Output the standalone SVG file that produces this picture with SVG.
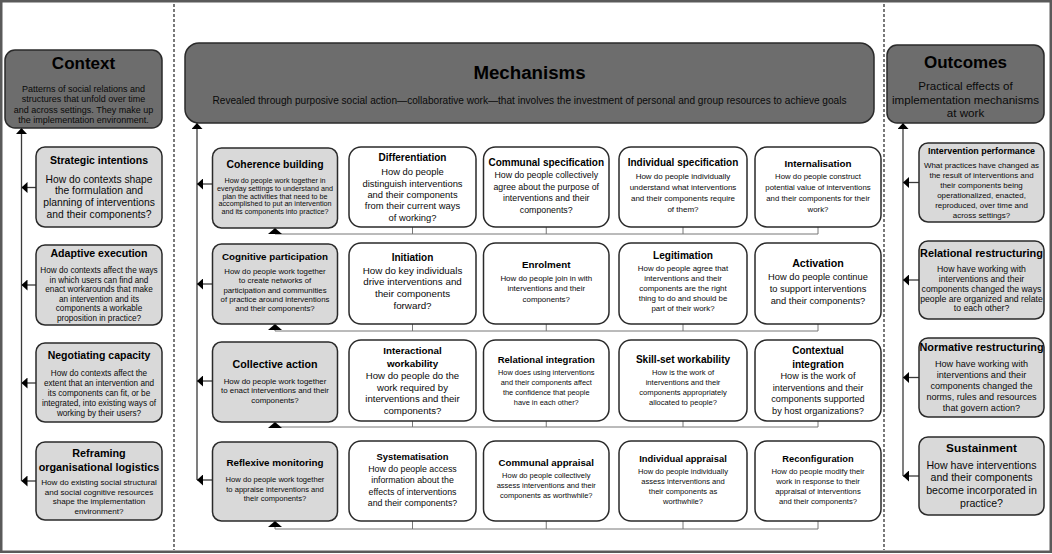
<svg xmlns="http://www.w3.org/2000/svg" width="1052" height="554" viewBox="0 0 1052 554">
<style>
text{font-family:"Liberation Sans",Arial,sans-serif;text-anchor:middle;fill:#0a0a0a}
.tb{font-weight:bold;fill:#000}
.hdr{fill:#6d6d6d;stroke:#2a2a2a;stroke-width:1.5}
.gry{fill:#d9d9d9;stroke:#2a2a2a;stroke-width:1.5}
.wht{fill:#fff;stroke:#2a2a2a;stroke-width:1.5}
.frame{fill:none;stroke:#5a5a5a;stroke-width:2.5}
.sep{stroke:#333;stroke-width:1.3;stroke-dasharray:3 2;fill:none}
.ln{fill:none;stroke:#3a3a3a;stroke-width:1.3}
.br{fill:none;stroke:#777;stroke-width:1}
</style>
<defs>
<marker id="ah" viewBox="0 0 6 11" refX="6" refY="5.5" markerWidth="6" markerHeight="11" markerUnits="userSpaceOnUse" orient="auto"><path d="M0,0L6,5.5L0,11z" fill="#000"/></marker>
<marker id="ahw" viewBox="0 0 6 14" refX="6" refY="7" markerWidth="6" markerHeight="14" markerUnits="userSpaceOnUse" orient="auto"><path d="M0,0L6,7L0,14z" fill="#000"/></marker>
</defs>
<rect x="0" y="0" width="1052" height="554" fill="#fff"/>
<rect class="frame" x="1.25" y="1.25" width="1049.5" height="550.5"/>
<line class="sep" x1="174" y1="4" x2="174" y2="550"/>
<line class="sep" x1="884" y1="4" x2="884" y2="550"/>

<g id="connectors">
<path class="ln" d="M21.5,481V128" marker-end="url(#ah)"/>
<path class="ln" d="M36,187.5H21.5" marker-end="url(#ah)"/>
<path class="ln" d="M36,285H21.5" marker-end="url(#ah)"/>
<path class="ln" d="M36,383H21.5" marker-end="url(#ah)"/>
<path class="ln" d="M36,481H21.5" marker-end="url(#ah)"/>
<path class="ln" d="M197,480V123" marker-end="url(#ah)"/>
<path class="ln" d="M212.5,184H197" marker-end="url(#ah)"/>
<path class="ln" d="M212.5,284H197" marker-end="url(#ah)"/>
<path class="ln" d="M212.5,381H197" marker-end="url(#ah)"/>
<path class="ln" d="M212.5,480H197" marker-end="url(#ah)"/>
<path class="br" d="M412.5,227V234M546.25,227V234M683,227V234"/>
<path class="br" d="M818,227V234H275V228" marker-end="url(#ahw)"/>
<path class="br" d="M412.5,324V331M546.25,324V331M683,324V331"/>
<path class="br" d="M818,324V331H275V324" marker-end="url(#ahw)"/>
<path class="br" d="M412.5,421V427M546.25,421V427M683,421V427"/>
<path class="br" d="M818,421V427H275V422" marker-end="url(#ahw)"/>
<path class="br" d="M412.5,521V529M546.25,521V529M683,521V529"/>
<path class="br" d="M818,521V529H275V521" marker-end="url(#ahw)"/>
<path class="ln" d="M903,476V123" marker-end="url(#ah)"/>
<path class="ln" d="M919,182.5H903" marker-end="url(#ah)"/>
<path class="ln" d="M919,280H903" marker-end="url(#ah)"/>
<path class="ln" d="M919,377.5H903" marker-end="url(#ah)"/>
<path class="ln" d="M919,476H903" marker-end="url(#ah)"/>
</g>

<g id="context">
<rect class="hdr" x="5" y="50" width="157" height="78" rx="10"/>
<text class="tb" x="83.5" y="69" font-size="17">Context</text>
<g font-size="9"><text x="83.5" y="91.5">Patterns of social relations and</text><text x="83.5" y="102">structures that unfold over time</text><text x="83.5" y="112.5">and across settings. They make up</text><text x="83.5" y="123">the implementation environment.</text></g>
</g>
<g id="strategic-intentions">
<rect class="gry" x="36" y="147" width="126" height="80" rx="9"/>
<text class="tb" x="99" y="163.7" font-size="10.5">Strategic intentions</text>
<g font-size="10.3"><text x="99" y="182.5">How do contexts shape</text><text x="99" y="194.2">the formulation and</text><text x="99" y="205.9">planning of interventions</text><text x="99" y="217.6">and their components?</text></g>
</g>
<g id="adaptive-execution">
<rect class="gry" x="36" y="245" width="126" height="80" rx="9"/>
<text class="tb" x="99" y="257" font-size="10.6">Adaptive execution</text>
<g font-size="8.2"><text x="99" y="273">How do contexts affect the ways</text><text x="99" y="282.6">in which users can find and</text><text x="99" y="292.2">enact workarounds that make</text><text x="99" y="301.8">an intervention and its</text><text x="99" y="311.4">components a workable</text><text x="99" y="321">proposition in practice?</text></g>
</g>
<g id="negotiating-capacity">
<rect class="gry" x="36" y="343" width="126" height="79" rx="9"/>
<text class="tb" x="99" y="358.7" font-size="10.5">Negotiating capacity</text>
<g font-size="8.2"><text x="99" y="375.9">How do contexts affect the</text><text x="99" y="385.9">extent that an intervention and</text><text x="99" y="395.9">its components can fit, or be</text><text x="99" y="405.9">integrated, into existing ways of</text><text x="99" y="415.9">working by their users?</text></g>
</g>
<g id="reframing-logistics">
<rect class="gry" x="36" y="442" width="126" height="78" rx="9"/>
<g font-size="10.8"><text class="tb" x="99" y="456.7">Reframing</text><text class="tb" x="99" y="470.7">organisational logistics</text></g>
<g font-size="8.1"><text x="99" y="484.8">How do existing social structural</text><text x="99" y="494.5">and social cognitive resources</text><text x="99" y="504.2">shape the implementation</text><text x="99" y="513.9">environment?</text></g>
</g>

<g id="mechanisms">
<rect class="hdr" x="185" y="43" width="689" height="80" rx="14"/>
<text class="tb" x="529.5" y="79" font-size="18.7">Mechanisms</text>
<text x="529.5" y="103.5" font-size="10.1">Revealed through purposive social action—collaborative work—that involves the investment of personal and group resources to achieve goals</text>
</g>

<g id="coherence-building">
<rect class="gry" x="212.5" y="148" width="125" height="80" rx="9"/>
<text class="tb" x="275" y="168" font-size="10.4">Coherence building</text>
<g font-size="7.2"><text x="275" y="183.2">How do people work together in</text><text x="275" y="190.9">everyday settings to understand and</text><text x="275" y="198.6">plan the activities that need to be</text><text x="275" y="206.4">accomplished to put an intervention</text><text x="275" y="214.1">and its components into practice?</text></g>
</g>
<g id="differentiation">
<rect class="wht" x="349" y="147" width="127" height="80" rx="12"/>
<text class="tb" x="412.5" y="160.9" font-size="10">Differentiation</text>
<g font-size="9.4"><text x="412.5" y="175.1">How do people</text><text x="412.5" y="186.6">distinguish interventions</text><text x="412.5" y="198">and their components</text><text x="412.5" y="209.4">from their current ways</text><text x="412.5" y="220.8">of working?</text></g>
</g>
<g id="communal-specification">
<rect class="wht" x="483.5" y="147" width="125.5" height="80" rx="12"/>
<text class="tb" x="546.25" y="165.6" font-size="10">Communal specification</text>
<g font-size="8.8"><text x="546.25" y="178.1">How do people collectively</text><text x="546.25" y="189.6">agree about the purpose of</text><text x="546.25" y="201.1">interventions and their</text><text x="546.25" y="212.6">components?</text></g>
</g>
<g id="individual-specification">
<rect class="wht" x="619" y="147" width="128" height="80" rx="12"/>
<text class="tb" x="683" y="166.4" font-size="10">Individual specification</text>
<g font-size="8"><text x="683" y="178.9">How do people individually</text><text x="683" y="189.9">understand what interventions</text><text x="683" y="200.9">and their components require</text><text x="683" y="211.9">of them?</text></g>
</g>
<g id="internalisation">
<rect class="wht" x="755" y="147" width="126" height="80" rx="12"/>
<text class="tb" x="818" y="166.5" font-size="9.8">Internalisation</text>
<g font-size="7.8"><text x="818" y="178.5">How do people construct</text><text x="818" y="189.5">potential value of interventions</text><text x="818" y="200.5">and their components for their</text><text x="818" y="211.5">work?</text></g>
</g>

<g id="cognitive-participation">
<rect class="gry" x="212.5" y="244" width="125" height="80" rx="9"/>
<text class="tb" x="275" y="260" font-size="9.8">Cognitive participation</text>
<g font-size="7.8"><text x="275" y="274">How do people work together</text><text x="275" y="283.3">to create networks of</text><text x="275" y="292.6">participation and communities</text><text x="275" y="301.9">of practice around interventions</text><text x="275" y="311.2">and their components?</text></g>
</g>
<g id="initiation">
<rect class="wht" x="349" y="243" width="127" height="81" rx="12"/>
<text class="tb" x="412.5" y="261" font-size="10">Initiation</text>
<g font-size="9.8"><text x="412.5" y="273.5">How do key individuals</text><text x="412.5" y="285.3">drive interventions and</text><text x="412.5" y="297.1">their components</text><text x="412.5" y="308.9">forward?</text></g>
</g>
<g id="enrolment">
<rect class="wht" x="483.5" y="243" width="125.5" height="81" rx="12"/>
<text class="tb" x="546.25" y="268.2" font-size="9.8">Enrolment</text>
<g font-size="7.9"><text x="546.25" y="280.7">How do people join in with</text><text x="546.25" y="291.2">interventions and their</text><text x="546.25" y="301.7">components?</text></g>
</g>
<g id="legitimation">
<rect class="wht" x="619" y="243" width="128" height="81" rx="12"/>
<text class="tb" x="683" y="259.1" font-size="10.1">Legitimation</text>
<g font-size="7.9"><text x="683" y="271.1">How do people agree that</text><text x="683" y="281.1">interventions and their</text><text x="683" y="291.1">components are the right</text><text x="683" y="301.1">thing to do and should be</text><text x="683" y="311.1">part of their work?</text></g>
</g>
<g id="activation">
<rect class="wht" x="755" y="243" width="126" height="81" rx="12"/>
<text class="tb" x="818" y="266.8" font-size="10.7">Activation</text>
<g font-size="9.3"><text x="818" y="279.8">How do people continue</text><text x="818" y="291.8">to support interventions</text><text x="818" y="303.8">and their components?</text></g>
</g>

<g id="collective-action">
<rect class="gry" x="212.5" y="342" width="125" height="80" rx="9"/>
<text class="tb" x="275" y="367.5" font-size="10.7">Collective action</text>
<g font-size="7.9"><text x="275" y="383.5">How do people work together</text><text x="275" y="393">to enact interventions and their</text><text x="275" y="402.5">components?</text></g>
</g>
<g id="interactional-workability">
<rect class="wht" x="349" y="340" width="127" height="81" rx="12"/>
<g font-size="9.8"><text class="tb" x="412.5" y="354.2">Interactional</text><text class="tb" x="412.5" y="367">workability</text></g>
<g font-size="9.6"><text x="412.5" y="379">How do people do the</text><text x="412.5" y="390.6">work required by</text><text x="412.5" y="402.2">interventions and their</text><text x="412.5" y="413.8">components?</text></g>
</g>
<g id="relational-integration">
<rect class="wht" x="483.5" y="340" width="125.5" height="81" rx="12"/>
<text class="tb" x="546.25" y="363" font-size="9.5">Relational integration</text>
<g font-size="7.4"><text x="546.25" y="375">How does using interventions</text><text x="546.25" y="385.1">and their components affect</text><text x="546.25" y="395.2">the confidence that people</text><text x="546.25" y="405.3">have in each other?</text></g>
</g>
<g id="skill-set-workability">
<rect class="wht" x="619" y="340" width="128" height="81" rx="12"/>
<text class="tb" x="683" y="363" font-size="10.1">Skill-set workability</text>
<g font-size="7.6"><text x="683" y="375">How is the work of</text><text x="683" y="385.1">interventions and their</text><text x="683" y="395.2">components appropriately</text><text x="683" y="405.3">allocated to people?</text></g>
</g>
<g id="contextual-integration">
<rect class="wht" x="755" y="340" width="126" height="81" rx="12"/>
<g font-size="10"><text class="tb" x="818" y="354.2">Contextual</text><text class="tb" x="818" y="367.5">integration</text></g>
<g font-size="9.2"><text x="818" y="379">How is the work of</text><text x="818" y="390.7">interventions and their</text><text x="818" y="402.4">components supported</text><text x="818" y="414.1">by host organizations?</text></g>
</g>

<g id="reflexive-monitoring">
<rect class="gry" x="212.5" y="442" width="125" height="79" rx="9"/>
<text class="tb" x="275" y="466" font-size="9.8">Reflexive monitoring</text>
<g font-size="7.6"><text x="275" y="482">How do people work together</text><text x="275" y="491.5">to appraise interventions and</text><text x="275" y="501">their components?</text></g>
</g>
<g id="systematisation">
<rect class="wht" x="349" y="441" width="127" height="80" rx="12"/>
<text class="tb" x="412.5" y="460" font-size="9.4">Systematisation</text>
<g font-size="8.8"><text x="412.5" y="472">How do people access</text><text x="412.5" y="483.3">information about the</text><text x="412.5" y="494.6">effects of interventions</text><text x="412.5" y="505.9">and their components?</text></g>
</g>
<g id="communal-appraisal">
<rect class="wht" x="483.5" y="441" width="125.5" height="80" rx="12"/>
<text class="tb" x="546.25" y="465.5" font-size="9.7">Communal appraisal</text>
<g font-size="7.5"><text x="546.25" y="478">How do people collectively</text><text x="546.25" y="488">assess interventions and their</text><text x="546.25" y="498">components as worthwhile?</text></g>
</g>
<g id="individual-appraisal">
<rect class="wht" x="619" y="441" width="128" height="80" rx="12"/>
<text class="tb" x="683" y="461.9" font-size="9.4">Individual appraisal</text>
<g font-size="7.6"><text x="683" y="473.9">How do people individually</text><text x="683" y="483.9">assess interventions and</text><text x="683" y="493.9">their components as</text><text x="683" y="503.9">worthwhile?</text></g>
</g>
<g id="reconfiguration">
<rect class="wht" x="755" y="441" width="126" height="80" rx="12"/>
<text class="tb" x="818" y="462" font-size="9.3">Reconfiguration</text>
<g font-size="7.7"><text x="818" y="474">How do people modify their</text><text x="818" y="484">work in response to their</text><text x="818" y="494">appraisal of interventions</text><text x="818" y="504">and their components?</text></g>
</g>

<g id="outcomes">
<rect class="hdr" x="887" y="45" width="157" height="78" rx="10"/>
<text class="tb" x="965.5" y="68" font-size="17">Outcomes</text>
<g font-size="11.6"><text x="965.5" y="90">Practical effects of</text><text x="965.5" y="103.5">implementation mechanisms</text><text x="965.5" y="117">at work</text></g>
</g>
<g id="intervention-performance">
<rect class="gry" x="919" y="143" width="125" height="79" rx="9"/>
<text class="tb" x="981.5" y="154.2" font-size="8.9">Intervention performance</text>
<g font-size="7.95"><text x="981.5" y="167.8">What practices have changed as</text><text x="981.5" y="177.8">the result of interventions and</text><text x="981.5" y="187.8">their components being</text><text x="981.5" y="197.8">operationalized, enacted,</text><text x="981.5" y="207.8">reproduced, over time and</text><text x="981.5" y="217.8">across settings?</text></g>
</g>
<g id="relational-restructuring">
<rect class="gry" x="919" y="241" width="125" height="78" rx="9"/>
<text class="tb" x="981.5" y="257" font-size="10.9">Relational restructuring</text>
<g font-size="8.7"><text x="981.5" y="272.3">How have working with</text><text x="981.5" y="282">interventions and their</text><text x="981.5" y="291.8">components changed the ways</text><text x="981.5" y="301.5">people are organized and relate</text><text x="981.5" y="311.3">to each other?</text></g>
</g>
<g id="normative-restructuring">
<rect class="gry" x="919" y="338" width="125" height="79" rx="9"/>
<text class="tb" x="981.5" y="351" font-size="10.9">Normative restructuring</text>
<g font-size="9.1"><text x="981.5" y="367.2">How have working with</text><text x="981.5" y="378.2">interventions and their</text><text x="981.5" y="389.2">components changed the</text><text x="981.5" y="400.2">norms, rules and resources</text><text x="981.5" y="411.2">that govern action?</text></g>
</g>
<g id="sustainment">
<rect class="gry" x="919" y="437" width="125" height="78" rx="9"/>
<text class="tb" x="981.5" y="452.3" font-size="11.8">Sustainment</text>
<g font-size="10.6"><text x="981.5" y="468.7">How have interventions</text><text x="981.5" y="481.4">and their components</text><text x="981.5" y="494.1">become incorporated in</text><text x="981.5" y="506.8">practice?</text></g>
</g>
</svg>
